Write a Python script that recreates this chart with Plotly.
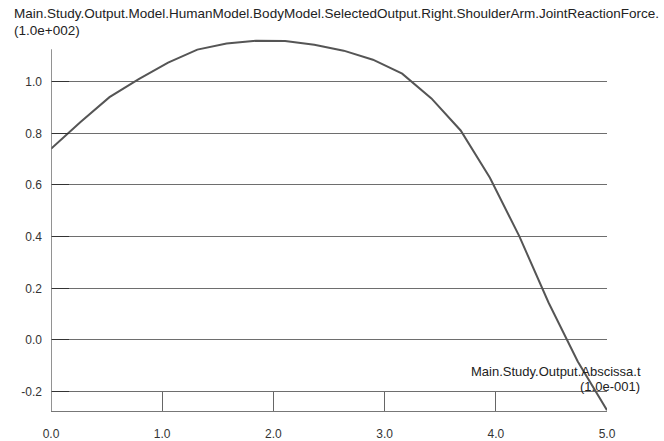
import plotly.graph_objects as go

# Time samples (abscissa, in units of 1.0e-001 s)
t_values = [0.000, 0.263, 0.526, 0.789, 1.053, 1.316, 1.579, 1.842, 2.105, 2.368,
            2.632, 2.895, 3.158, 3.421, 3.684, 3.947, 4.211, 4.474, 4.737, 5.000]
# Joint reaction force (in units of 1.0e+002)
force_values = [0.740, 0.843, 0.940, 1.010, 1.074, 1.124, 1.148, 1.158, 1.157, 1.143,
                1.120, 1.085, 1.031, 0.935, 0.811, 0.628, 0.402, 0.145, -0.083, -0.272]

x_ticks = [0.0, 1.0, 2.0, 3.0, 4.0, 5.0]
x_tick_text = ["0.0", "1.0", "2.0", "3.0", "4.0", "5.0"]
y_ticks = [-0.2, 0.0, 0.2, 0.4, 0.6, 0.8, 1.0]
y_tick_text = ["-0.2", "0.0", "0.2", "0.4", "0.6", "0.8", "1.0"]

title_text = "Main.Study.Output.Model.HumanModel.BodyModel.SelectedOutput.Right.ShoulderArm.JointReactionForce."
y_scale_text = "(1.0e+002)"
x_title_text = "Main.Study.Output.Abscissa.t"
x_scale_text = "(1.0e-001)"

Y_MIN, Y_MAX = -0.275, 1.2
Y_AXIS_TOP = 1.125

FONT = "Liberation Sans, Arial, sans-serif"
TEXT_COLOR = "#333333"
LABEL_SIZE = 13.5
AXIS_TITLE_SIZE = 13

fig = go.Figure()
fig.add_trace(go.Scatter(
    x=t_values, y=force_values, mode="lines",
    line=dict(color="#555555", width=2),
    hoverinfo="skip", showlegend=False, cliponaxis=False,
))

fig.update_layout(
    width=664, height=441,
    margin=dict(l=51, r=57, t=30, b=30, autoexpand=False),
    paper_bgcolor="white", plot_bgcolor="white",
    font=dict(family=FONT, size=12, color=TEXT_COLOR),
    xaxis=dict(
        range=[0, 5], tickvals=x_ticks, ticktext=x_tick_text,
        showgrid=False, zeroline=False, automargin=False,
        showline=True, linecolor="#777777", linewidth=1, mirror=False,
        ticks="inside", ticklen=19, tickcolor="#666666", tickwidth=1,
        ticklabelstandoff=12, tickfont=dict(size=12, color=TEXT_COLOR),
    ),
    yaxis=dict(
        range=[Y_MIN, Y_MAX], tickvals=y_ticks, ticktext=y_tick_text,
        showgrid=True, gridcolor="#6e6e6e", gridwidth=1,
        zeroline=False, showline=False, automargin=False,
        ticks="inside", ticklen=18, tickcolor="#333333", tickwidth=1,
        ticklabelstandoff=8, tickfont=dict(size=12, color=TEXT_COLOR),
    ),
    shapes=[
        # vertical value axis, stopping short of the top of the plot area
        dict(type="line", xref="x", yref="y", x0=0, x1=0, y0=Y_MIN, y1=Y_AXIS_TOP,
             line=dict(color="#777777", width=1.6)),
    ],
    annotations=[
        dict(text=title_text, xref="paper", yref="paper", x=-0.0702, y=1.0436,
             xanchor="left", yanchor="middle", showarrow=False,
             font=dict(size=LABEL_SIZE, color="#222222")),
        dict(text=y_scale_text, xref="paper", yref="paper", x=-0.0702, y=0.9990,
             xanchor="left", yanchor="middle", showarrow=False,
             font=dict(size=LABEL_SIZE, color="#222222")),
        dict(text=x_title_text, xref="paper", yref="paper", x=1.0653, y=0.1049,
             xanchor="right", yanchor="middle", showarrow=False,
             font=dict(size=AXIS_TITLE_SIZE, color="#222222")),
        dict(text=x_scale_text, xref="paper", yref="paper", x=1.0635, y=0.0648,
             xanchor="right", yanchor="middle", showarrow=False,
             font=dict(size=AXIS_TITLE_SIZE, color="#222222")),
    ],
)

fig.write_html("out.html")
